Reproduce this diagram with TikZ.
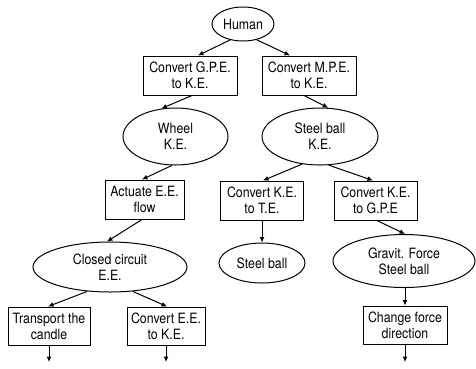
\documentclass[tikz,border=0pt]{standalone}
\usepackage{fontspec}
\setmainfont{TeX Gyre Heros}[FakeStretch=0.87]
\usetikzlibrary{shapes.geometric,arrows.meta}
\begin{document}
\begin{tikzpicture}[x=1pt,y=-1pt,
  every node/.style={font=\fontsize{14.2}{16}\selectfont,align=center,inner sep=0pt,line width=1pt},
  ell/.style={draw,ellipse},
  box/.style={draw,rectangle},
  arr/.style={draw,line width=1pt,-{Latex[length=5.5pt,width=5pt]}}]
\useasboundingbox (0,0) rectangle (476,368);
% nodes
\node[ell,minimum width=62pt,minimum height=34pt] (hum) at (243,24) {Human};
\node[box,minimum width=94pt,minimum height=39pt] (gpe) at (190,75.5) {Convert G.P.E.\\to K.E.};
\node[box,minimum width=94pt,minimum height=39pt] (mpe) at (309,75.5) {Convert M.P.E.\\to K.E.};
\node[ell,minimum width=105pt,minimum height=57pt] (wheel) at (175.5,136.5) {Wheel\\K.E.};
\node[ell,minimum width=116pt,minimum height=57pt] (sbke) at (320,136.5) {Steel ball\\K.E.};
\node[box,minimum width=79pt,minimum height=39pt] (act) at (144.5,199.5) {Actuate E.E.\\flow};
\node[box,minimum width=83pt,minimum height=39pt] (kete) at (262,200.5) {Convert K.E.\\to T.E.};
\node[box,minimum width=83pt,minimum height=39pt] (kegpe) at (375.5,200.5) {Convert K.E.\\to G.P.E};
\node[ell,minimum width=154pt,minimum height=50pt] (closed) at (110,267) {Closed circuit\\E.E.};
\node[ell,minimum width=86pt,minimum height=40pt] (sb) at (262,263) {Steel ball};
\node[ell,minimum width=142pt,minimum height=53pt] (grav) at (404,261) {Gravit. Force\\Steel ball};
\node[box,minimum width=82pt,minimum height=38pt] (tr) at (49,326) {Transport the\\candle};
\node[box,minimum width=78pt,minimum height=38pt] (cee) at (166,326) {Convert E.E.\\to K.E.};
\node[box,minimum width=84pt,minimum height=38pt] (chg) at (405,325) {Change force\\direction};
\coordinate (e1) at (49,362);
\coordinate (e2) at (166,362);
\coordinate (e3) at (405,362);
% connectors
\draw[arr] (hum.-129) -- ([xshift=8pt]gpe.north);
\draw[arr] (hum.-49) -- ([xshift=-19pt]mpe.north);
\draw[arr] ([xshift=2pt]gpe.south) -- (wheel.117);
\draw[arr] ([xshift=-5pt]mpe.south) -- (sbke.74);
\draw[arr] (wheel.-97) -- ([xshift=-2.5pt]act.north);
\draw[arr] (sbke.-123) -- ([xshift=1pt]kete.north);
\draw[arr] (sbke.-73) -- ([xshift=-2.5pt]kegpe.north);
\draw[arr] ([xshift=-2.5pt]act.south) -- ([xshift=-3pt]closed.north);
\draw[arr] (kete.south) -- (sb.north);
\draw[arr] ([xshift=1.5pt]kegpe.south) -- ([xshift=1pt]grav.north);
\draw[arr] ([xshift=1pt]grav.south) -- (chg.north);
\draw[arr] (closed.-133) -- ([xshift=-1pt]tr.north);
\draw[arr] (closed.-47) -- ([xshift=1pt]cee.north);
\draw[arr] (tr.south) -- (e1);
\draw[arr] (cee.south) -- (e2);
\draw[arr] (chg.south) -- (e3);
\end{tikzpicture}
\end{document}
